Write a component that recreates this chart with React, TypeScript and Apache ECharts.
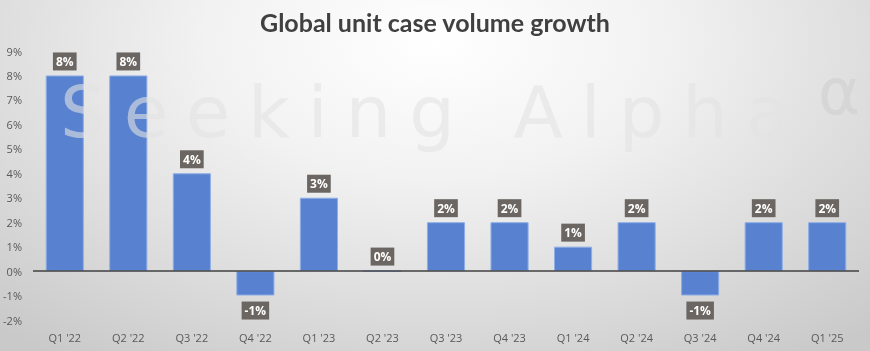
import React, { useEffect, useRef } from "react";
import * as echarts from "echarts";

const categories = ["Q1 '22", "Q2 '22", "Q3 '22", "Q4 '22", "Q1 '23", "Q2 '23", "Q3 '23", "Q4 '23", "Q1 '24", "Q2 '24", "Q3 '24", "Q4 '24", "Q1 '25"];
const growth = [8, 8, 4, -1, 3, 0, 2, 2, 1, 2, -1, 2, 2];
const yMin = -2;
const yMax = 9;
const yStep = 1;
const titleText = "Global unit case volume growth";
const watermarkText = "Seeking Alpha";

function buildWatermark() {
  const font = "72px 'DejaVu Sans'";
  const canvas = document.createElement("canvas");
  const ctx = canvas.getContext("2d");
  if (ctx) ctx.font = font;
  const chars = watermarkText.split("");
  const widths = chars.map((c) => (ctx ? ctx.measureText(c).width : 42));
  const total = widths.reduce((a, b) => a + b, 0);
  const startX = 60;
  const endX = 790;
  const spacing = (endX - startX - total) / (chars.length - 1);
  const els: any[] = [];
  let x = startX;
  chars.forEach((c, i) => {
    if (c !== " ") {
      els.push({
        type: "text",
        x,
        y: 142,
        z: 100,
        silent: true,
        style: {
          text: c,
          font,
          lineHeight: 60,
          fill: "rgba(226,226,226,0.6)",
          verticalAlign: "bottom",
          align: "left",
        },
      });
    }
    x += widths[i] + spacing;
  });
  els.push({
    type: "text",
    x: 818,
    y: 92,
    z: 100,
    silent: true,
    style: {
      text: "α",
      fontSize: 64,
      fontFamily: "'DejaVu Sans'",
      fill: "rgba(205,205,205,0.55)",
      verticalAlign: "middle",
      align: "left",
    },
  });
  return els;
}

export default function App() {
  const ref = useRef<HTMLDivElement>(null);
  useEffect(() => {
    if (!ref.current) return;
    const chart = echarts.init(ref.current, undefined, { renderer: "svg" });
    chart.setOption({
      animation: false,
      title: {
        text: titleText,
        left: "center",
        top: 4,
        textStyle: {
          fontFamily: "Lato",
          fontWeight: "bold",
          fontSize: 25,
          color: "#404040",
        },
      },
      grid: { left: 33, right: 11, top: 51, bottom: 31, containLabel: false },
      xAxis: {
        type: "category",
        data: categories,
        axisLine: { show: false, onZero: false },
        axisTick: { show: false },
        axisLabel: {
          color: "#595959",
          fontSize: 11,
          fontFamily: "'Open Sans'",
          margin: 12,
        },
      },
      yAxis: {
        type: "value",
        min: yMin,
        max: yMax,
        interval: yStep,
        splitLine: { show: false },
        axisLine: { show: false },
        axisTick: { show: false },
        axisLabel: {
          formatter: "{value}%",
          color: "#595959",
          fontSize: 11,
          fontFamily: "'Open Sans'",
          margin: 11,
        },
      },
      graphic: buildWatermark(),
      series: [
        {
          type: "bar",
          barWidth: "60%",
          data: growth.map((v) => ({
            value: v,
            label: v < 0 ? { position: "bottom", distance: 6 } : undefined,
          })),
          itemStyle: {
            color: "#5882d0",
            borderColor: "#8eaee6",
            borderWidth: 1,
          },
          label: {
            show: true,
            position: "top",
            distance: 5,
            formatter: "{c}%",
            backgroundColor: "#6b6661",
            color: "#ffffff",
            fontWeight: "bold",
            fontSize: 12,
            fontFamily: "'Open Sans'",
            padding: [3, 3, 3, 3],
          },
          markLine: {
            silent: true,
            symbol: "none",
            label: { show: false },
            lineStyle: { color: "#404040", width: 1.5, type: "solid" },
            data: [{ yAxis: 0 }],
          },
        },
      ],
    });
    return () => chart.dispose();
  }, []);
  return (
    <div
      style={{
        position: "fixed",
        left: 0,
        top: 0,
        width: 870,
        height: 351,
        background: "radial-gradient(ellipse 75% 110% at 50% 12%, #ffffff 0%, #f2f2f2 35%, #c9c9c9 100%)",
      }}
    >
      <div ref={ref} style={{ width: 870, height: 351 }} />
    </div>
  );
}
